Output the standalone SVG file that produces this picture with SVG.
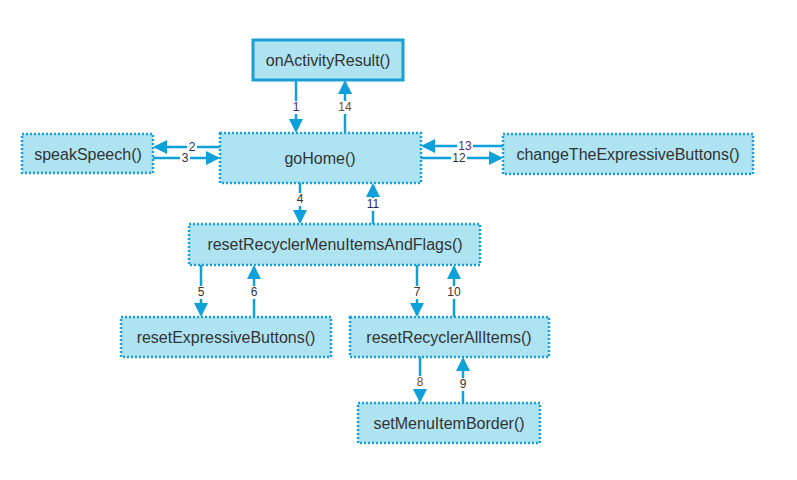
<svg xmlns="http://www.w3.org/2000/svg" width="797" height="480" viewBox="0 0 797 480">
<style>
.box{fill:#aee3f2;stroke:#1a9fd9;stroke-width:2.5;stroke-dasharray:2 2}
.solid{fill:#aee3f2;stroke:#1a9fd9;stroke-width:3}
.t{font-family:"Liberation Sans",Arial,sans-serif;font-size:16px;fill:#333;text-anchor:middle;dominant-baseline:central}
.e{stroke:#0ea1d9;stroke-width:2.5;fill:none;marker-end:url(#ah)}
.lb{fill:#fff}
.l{font-family:"Liberation Sans",Arial,sans-serif;font-size:12px;fill:#333;text-anchor:middle;dominant-baseline:central}
</style>
<defs>
<marker id="ah" markerUnits="userSpaceOnUse" markerWidth="14" markerHeight="14" refX="12" refY="7" orient="auto">
<path d="M0,0 L14,7 L0,14 z" fill="#0ea1d9"/>
</marker>
</defs>
<rect width="797" height="480" fill="#fff"/>
<g id="connectors">
<line class="e" x1="296" y1="80" x2="296" y2="131"/>
<line class="e" x1="345" y1="133" x2="345" y2="82"/>
<line class="e" x1="220" y1="147" x2="155" y2="147"/>
<line class="e" x1="153" y1="158" x2="218" y2="158"/>
<line class="e" x1="503" y1="146" x2="423" y2="146"/>
<line class="e" x1="421" y1="158" x2="501" y2="158"/>
<line class="e" x1="300" y1="183" x2="300" y2="222"/>
<line class="e" x1="373" y1="224" x2="373" y2="185"/>
<line class="e" x1="201" y1="265" x2="201" y2="315"/>
<line class="e" x1="254" y1="317" x2="254" y2="267"/>
<line class="e" x1="417" y1="265" x2="417" y2="315"/>
<line class="e" x1="454" y1="317" x2="454" y2="267"/>
<line class="e" x1="420" y1="357" x2="420" y2="401"/>
<line class="e" x1="463" y1="403" x2="463" y2="359"/>
<g>
<rect class="lb" x="291" y="101" width="10" height="13"/><text class="l" x="296" y="107" style="fill:#4b2a6a">1</text>
<rect class="lb" x="338" y="101" width="15" height="13"/><text class="l" x="345" y="107" style="fill:#7a4a2a">14</text>
<rect class="lb" x="187" y="141" width="10" height="13"/><text class="l" x="192" y="147" style="fill:#2a2a5a">2</text>
<rect class="lb" x="180" y="152" width="10" height="13"/><text class="l" x="185" y="158" style="fill:#2a2a5a">3</text>
<rect class="lb" x="457" y="140" width="16" height="13"/><text class="l" x="465" y="146" style="fill:#5a2a7a">13</text>
<rect class="lb" x="451" y="152" width="16" height="13"/><text class="l" x="459" y="158" style="fill:#333">12</text>
<rect class="lb" x="295" y="193" width="10" height="13"/><text class="l" x="300" y="199">4</text>
<rect class="lb" x="366" y="198" width="15" height="13"/><text class="l" x="373" y="204" style="fill:#2a2a5a">11</text>
<rect class="lb" x="196" y="286" width="10" height="13"/><text class="l" x="201" y="292">5</text>
<rect class="lb" x="249" y="286" width="10" height="13"/><text class="l" x="254" y="292">6</text>
<rect class="lb" x="412" y="286" width="10" height="13"/><text class="l" x="417" y="292">7</text>
<rect class="lb" x="446" y="286" width="16" height="13"/><text class="l" x="454" y="292">10</text>
<rect class="lb" x="415" y="376" width="10" height="13"/><text class="l" x="420" y="382" style="fill:#7a4a2a">8</text>
<rect class="lb" x="458" y="378" width="10" height="13"/><text class="l" x="463" y="384">9</text>
</g>
</g>
<g id="onActivityResult"><rect class="solid" x="253" y="40" width="150" height="40"/><text class="t" x="328" y="60">onActivityResult()</text></g>
<g id="goHome"><rect class="box" x="220" y="133" width="201" height="50"/><text class="t" x="320" y="158">goHome()</text></g>
<g id="speakSpeech"><rect class="box" x="22" y="134" width="131" height="39"/><text class="t" x="88" y="154">speakSpeech()</text></g>
<g id="changeTheExpressiveButtons"><rect class="box" x="503" y="134" width="250" height="40"/><text class="t" x="628" y="154">changeTheExpressiveButtons()</text></g>
<g id="resetRecyclerMenuItemsAndFlags"><rect class="box" x="189" y="224" width="291" height="41"/><text class="t" x="335" y="244">resetRecyclerMenuItemsAndFlags()</text></g>
<g id="resetExpressiveButtons"><rect class="box" x="121" y="317" width="210" height="40"/><text class="t" x="226" y="337">resetExpressiveButtons()</text></g>
<g id="resetRecyclerAllItems"><rect class="box" x="350" y="317" width="199" height="40"/><text class="t" x="449" y="337">resetRecyclerAllItems()</text></g>
<g id="setMenuItemBorder"><rect class="box" x="358" y="403" width="182" height="40"/><text class="t" x="449" y="423">setMenuItemBorder()</text></g>
</svg>
